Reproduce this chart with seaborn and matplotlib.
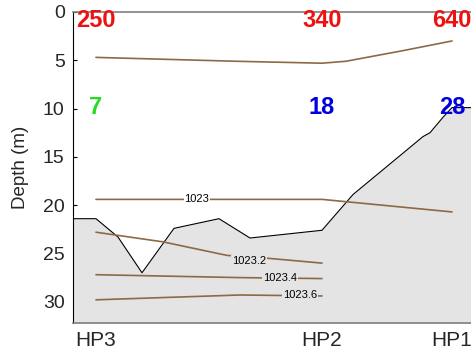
import matplotlib
matplotlib.use("Agg")
import matplotlib.pyplot as plt
import seaborn as sns
import numpy as np

sns.set_theme(style="white")
plt.rcParams['font.family'] = ['Liberation Sans', 'DejaVu Sans']

# Stations
stations = ["HP3", "HP2", "HP1"]
station_x = [0.0, 22.6, 35.6]
top_labels = ["250", "340", "640"]
mid_labels = ["7", "18", "28"]
mid_colors = ["#22dd22", "#0000dd", "#0000dd"]

# Bathymetry
bathy_x = [-2.3, 0.0, 2.2, 4.6, 7.8, 12.3, 15.4, 22.6, 25.7, 32.7, 33.4, 34.7, 35.6, 37.5]
bathy_d = [21.4, 21.4, 23.3, 27.0, 22.4, 21.4, 23.4, 22.6, 18.9, 12.9, 12.5, 10.9, 9.9, 9.9]

# Contour lines
c_top_x = [0.0, 7.0, 14.0, 22.6, 25.0, 30.7, 35.6]
c_top_d = [4.7, 4.9, 5.1, 5.3, 5.1, 4.0, 3.0]

c1023_x = [0.0, 10.0, 22.6, 35.6]
c1023_d = [19.4, 19.4, 19.4, 20.7]

c10232_x = [0.0, 6.7, 13.1, 17.2, 22.6]
c10232_d = [22.8, 23.8, 25.2, 25.5, 26.0]

c10234_x = [0.0, 14.4, 22.6]
c10234_d = [27.2, 27.5, 27.6]

c10236_x = [0.0, 14.4, 22.6]
c10236_d = [29.8, 29.3, 29.4]

contour_labels = ["1023", "1023.2", "1023.4", "1023.6"]
contour_label_x = [10.1, 15.3, 18.4, 20.4]
contour_label_d = [19.4, 25.8, 27.55, 29.35]
contour_label_bg = ["white", "#e4e4e4", "#e4e4e4", "#e4e4e4"]

fig = plt.figure(figsize=(4.71, 3.57), dpi=100)
ax = fig.add_axes([73/471, (357-323)/357, (471-73)/471, (323-12)/357])

ymax = 32.2
ax.fill_between(bathy_x, bathy_d, ymax, color="#e4e4e4", zorder=1, linewidth=0)
sns.lineplot(x=bathy_x, y=bathy_d, color="black", linewidth=0.8, ax=ax, sort=False,
             estimator=None, zorder=2)

ccol = "#8c6a45"
for xs, ds in [(c_top_x, c_top_d), (c1023_x, c1023_d), (c10232_x, c10232_d),
               (c10234_x, c10234_d), (c10236_x, c10236_d)]:
    sns.lineplot(x=xs, y=ds, color=ccol, linewidth=1.2, ax=ax, sort=False,
                 estimator=None, zorder=3)

for t, x, d, bg in zip(contour_labels, contour_label_x, contour_label_d, contour_label_bg):
    ax.text(x, d, t, fontsize=8, ha="center", va="center", color="black", zorder=4,
            bbox=dict(facecolor=bg, edgecolor="none", pad=0.6))

for t, x in zip(top_labels, station_x):
    ax.text(x, 0.9, t, color="#ee1111", fontsize=17, fontweight="bold",
            ha="center", va="center", zorder=5)
for t, x, c in zip(mid_labels, station_x, mid_colors):
    ax.text(x, 9.9, t, color=c, fontsize=17, fontweight="bold",
            ha="center", va="center", zorder=5)

ax.set_xlim(-2.3, 37.5)
ax.set_ylim(ymax, 0)
ax.set_xticks(station_x)
ax.set_xticklabels(stations, fontsize=15)
ax.set_yticks([0, 5, 10, 15, 20, 25, 30])
ax.set_yticklabels(["0", "5", "10", "15", "20", "25", "30"], fontsize=14)
ax.set_ylabel("Depth (m)", fontsize=13.5, labelpad=10)
ax.tick_params(axis="y", direction="in", length=3, width=0.8, color="black", pad=6, left=True)
ax.tick_params(axis="x", length=0, pad=6)

ax.spines["right"].set_visible(False)
ax.spines["top"].set_color("#808080")
ax.spines["top"].set_linewidth(1.2)
ax.spines["bottom"].set_color("#808080")
ax.spines["bottom"].set_linewidth(1.2)
ax.spines["left"].set_color("black")
ax.spines["left"].set_linewidth(0.8)
ax.set_facecolor("white")

fig.savefig("out.png", dpi=100)
